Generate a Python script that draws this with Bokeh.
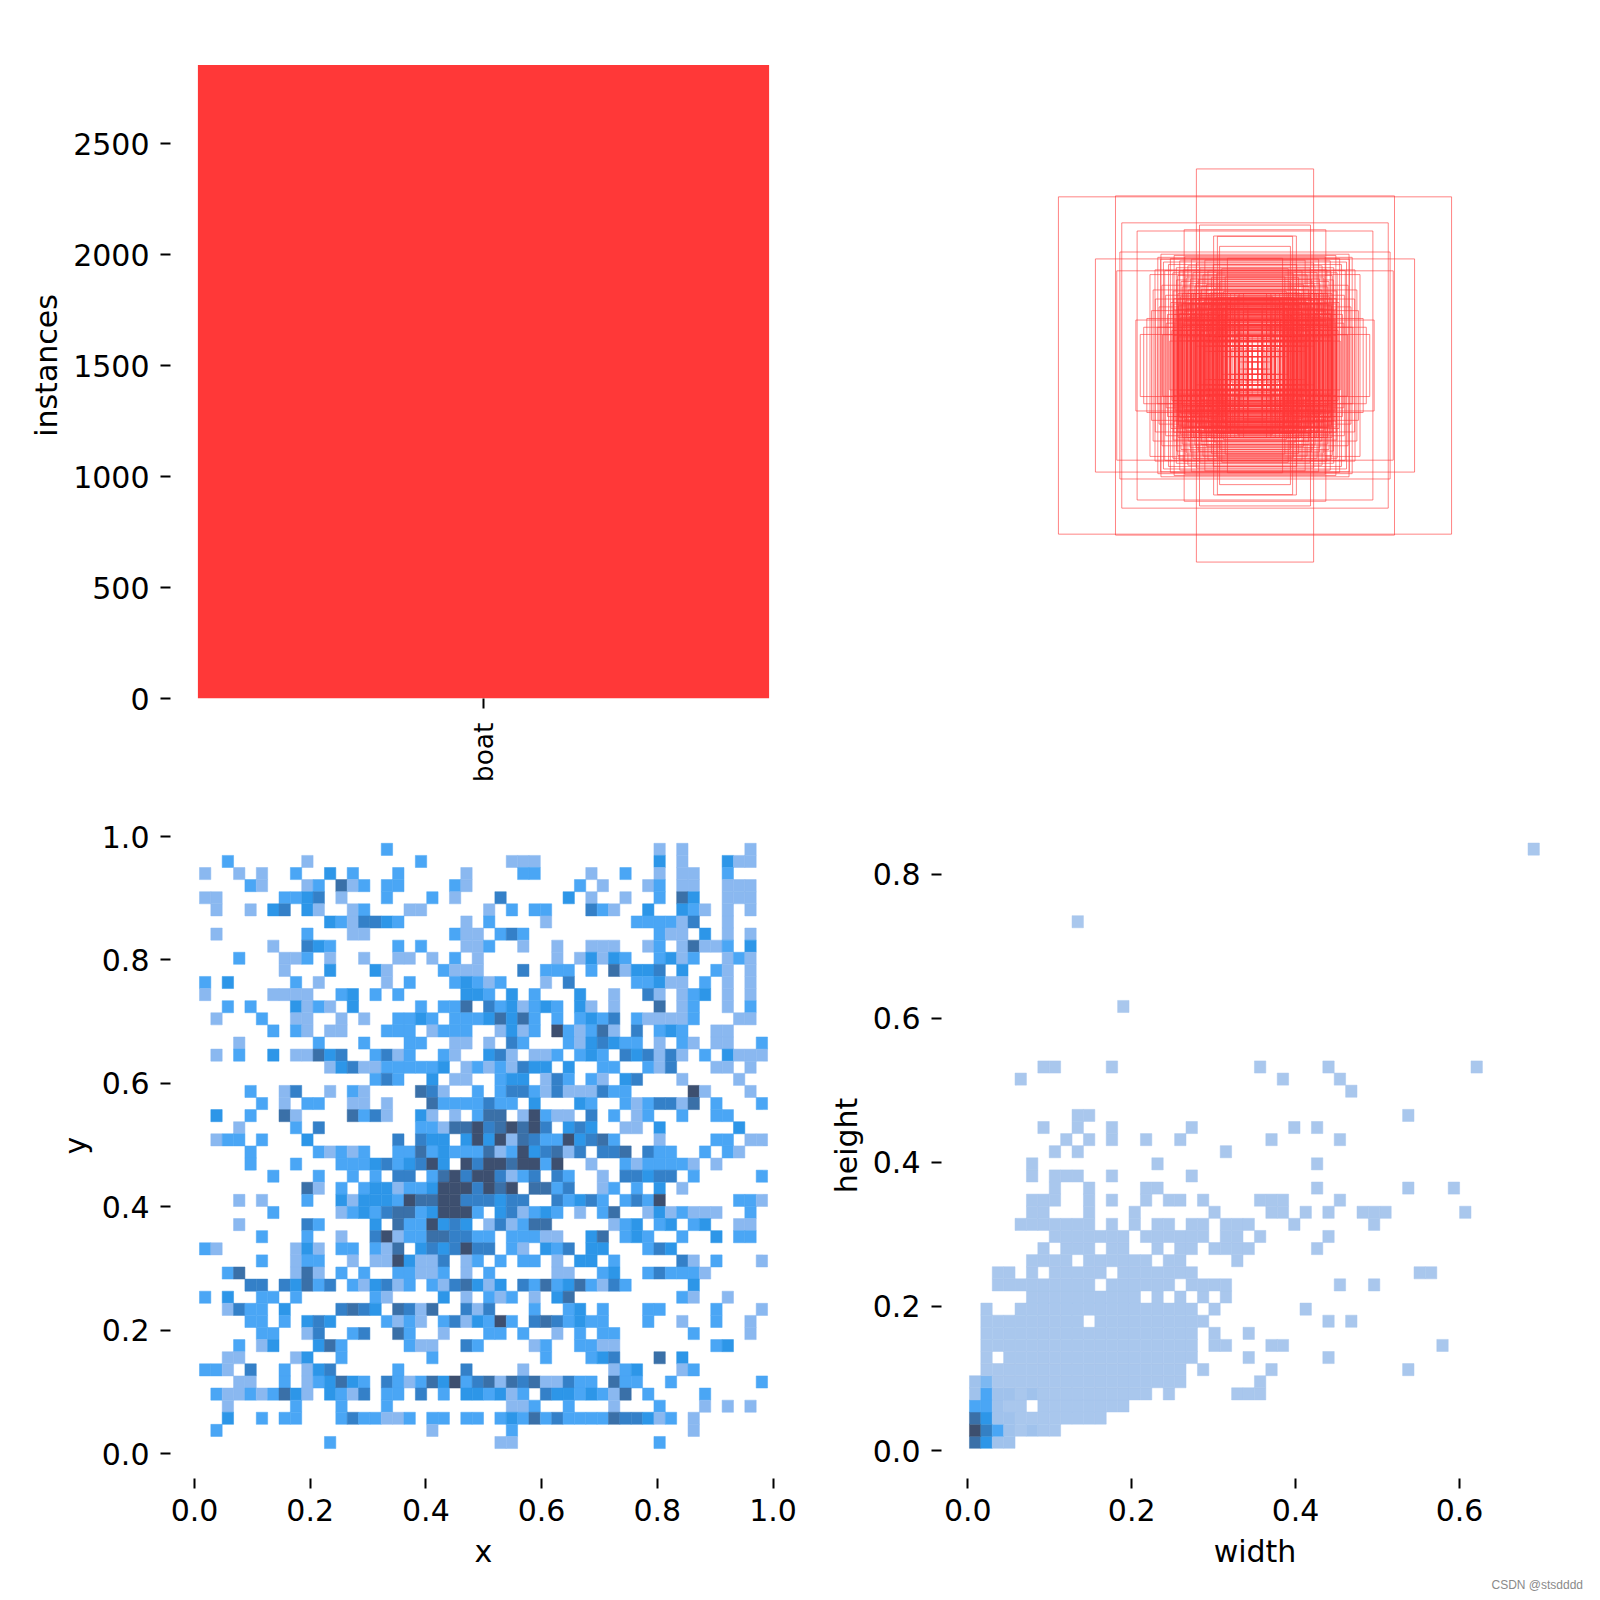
from math import pi
from bokeh.embed import file_html
from bokeh.resources import INLINE
from bokeh.layouts import column, row
from bokeh.models import (ColumnDataSource, FixedTicker, LinearColorMapper,
                          NumeralTickFormatter, Range1d, Title)
from bokeh.plotting import figure
from bokeh.transform import transform

FONT = "DejaVu Sans"
RED = "#FF3838"

# ---- instances per class
class_names = ["boat"]
class_counts = [2854]

# ---- x / y 2-D histogram, row 0 at the top: {column: level}
xy_rows = [
 {16:2,40:1,42:1,48:1},
 {2:2,9:1,19:2,27:1,28:1,29:1,40:3,42:1,46:3,47:1,48:1},
 {0:1,3:1,5:1,8:2,11:3,13:2,17:2,23:1,28:2,29:2,34:1,37:2,40:1,42:1,43:1,46:2},
 {4:2,5:1,9:1,10:2,12:5,13:1,14:2,16:2,17:2,22:2,23:1,33:2,35:1,39:1,40:2,42:1,43:1,46:1,47:1,48:1},
 {0:1,1:1,7:2,8:2,9:3,10:4,12:1,16:2,20:2,22:1,26:4,32:3,34:1,37:1,40:2,42:5,43:3,46:1,47:1,48:1},
 {1:1,4:1,6:3,7:4,9:3,10:1,13:1,14:2,18:1,19:1,25:1,27:2,29:2,30:2,34:4,35:2,36:1,39:3,42:3,43:2,44:1,46:1,48:1},
 {11:3,12:2,13:1,14:4,15:4,16:3,17:2,23:1,25:2,30:1,38:2,39:2,40:2,41:2,42:1,43:4,46:1},
 {1:1,9:2,13:1,14:1,22:2,23:1,24:1,26:2,27:4,28:2,40:2,41:1,42:1,44:3,46:1,48:1},
 {6:1,9:4,10:3,11:2,17:2,19:2,23:1,24:1,25:2,28:1,31:1,34:1,35:1,36:1,39:1,40:2,42:1,43:5,44:1,45:1,46:2,48:3},
 {3:2,7:1,8:1,9:2,11:1,14:1,17:1,18:1,20:1,22:2,24:1,31:1,33:1,34:3,35:1,36:3,37:2,40:2,41:3,42:1,43:2,46:1,47:2,48:1},
 {7:1,11:3,15:3,16:1,21:2,22:1,23:1,24:1,28:4,30:2,31:2,32:2,34:2,36:5,37:1,38:3,39:3,40:4,42:3,45:2,46:1,48:1},
 {0:2,2:3,8:2,10:1,16:1,18:2,22:2,23:3,24:2,25:1,26:2,30:1,32:4,38:2,39:2,40:3,41:1,42:1,44:2,46:1,48:1},
 {0:1,6:1,7:1,8:1,9:1,12:2,13:3,15:2,17:2,23:3,24:3,25:2,27:3,29:2,33:3,36:1,39:4,40:1,42:1,43:2,44:3,46:1,48:1},
 {2:2,4:2,8:3,9:1,10:2,11:1,13:3,19:2,21:2,22:2,23:5,25:4,26:2,27:3,28:1,29:2,30:3,31:2,33:3,34:1,36:1,40:5,42:1,43:2,46:1,48:2},
 {1:1,5:2,8:1,9:1,12:1,14:1,17:2,18:2,19:3,20:2,22:2,23:2,24:2,25:3,26:5,27:3,28:5,29:2,31:2,33:2,34:3,35:2,36:4,38:2,39:1,40:1,41:1,42:1,43:2,47:1,48:1},
 {6:2,8:2,9:1,11:1,12:1,16:2,17:2,18:2,20:1,21:2,22:2,23:2,26:1,27:3,28:1,29:2,31:6,32:2,33:1,34:2,35:5,36:1,38:4,40:2,41:3,42:2,45:1,46:1},
 {3:1,10:2,14:2,18:2,19:2,22:1,23:1,25:1,27:4,28:2,32:2,33:1,34:3,35:4,36:3,37:2,38:2,40:1,42:2,43:1,45:1,46:1,49:2},
 {1:1,3:2,6:3,8:1,9:1,10:5,11:3,12:4,15:2,16:4,17:1,18:2,21:2,22:1,25:3,26:4,27:1,29:1,30:1,31:2,33:2,34:3,35:2,37:4,38:3,39:4,40:1,41:4,42:1,44:2,46:3,47:1,48:1,49:1},
 {11:1,12:3,13:4,14:1,15:1,16:2,17:2,18:2,19:2,20:2,21:3,23:1,24:2,25:1,26:2,27:1,28:4,29:3,30:3,32:3,35:2,36:2,39:2,40:1,41:4,45:1,46:1,48:1},
 {15:2,16:4,17:2,20:3,22:1,23:1,26:2,27:3,28:3,30:1,31:4,32:2,34:2,35:1,37:3,38:4,42:1,47:1},
 {4:2,7:1,8:4,11:1,13:2,14:1,19:5,20:4,21:1,24:2,26:2,27:4,28:4,29:2,30:1,31:4,32:1,33:1,34:1,35:4,36:2,37:2,43:6,44:1,48:1},
 {5:2,7:1,9:2,10:2,13:1,14:1,16:1,20:5,21:2,22:2,23:2,24:2,25:4,26:2,27:2,29:3,33:3,34:2,37:2,38:1,39:2,40:4,41:4,42:1,43:5,45:2,49:2},
 {1:3,4:2,7:5,8:1,13:5,14:2,15:4,16:1,19:3,20:1,22:1,24:2,25:5,26:5,28:1,29:6,30:2,31:1,32:1,34:4,36:2,38:1,39:2,42:2,45:2,46:2},
 {3:1,8:2,10:4,19:2,20:2,21:1,22:5,23:5,24:6,25:4,26:5,27:6,28:5,29:6,30:4,32:3,33:4,34:3,37:1,38:1,40:3,47:3},
 {1:1,2:2,3:2,5:2,9:3,17:4,19:4,20:3,21:3,23:3,24:6,25:3,26:6,27:1,28:5,29:4,30:2,31:2,32:6,33:3,34:4,35:5,36:2,40:1,45:2,46:2,48:1,49:1},
 {4:2,10:2,11:1,12:2,13:1,14:2,17:2,18:2,19:5,20:2,21:3,22:2,23:2,24:2,25:5,26:1,27:2,28:6,29:3,30:4,31:5,32:1,33:4,35:4,36:4,37:5,39:4,40:2,41:2,44:2,46:2,47:1},
 {4:2,8:2,12:2,13:2,14:2,15:3,16:4,17:2,18:3,19:4,20:6,21:3,23:6,24:4,25:6,26:6,27:5,28:6,29:6,30:2,31:6,34:1,37:2,38:1,39:2,40:2,41:2,42:2,43:1,45:1},
 {6:2,10:2,13:2,15:2,17:4,18:4,20:2,21:5,22:6,23:4,24:6,25:6,26:4,27:1,28:2,29:4,31:4,32:2,35:1,37:4,38:4,39:3,40:4,41:4,43:2,49:2},
 {9:5,10:1,12:2,14:2,15:3,16:3,17:1,18:2,19:2,20:3,21:6,22:6,23:6,24:4,25:6,26:5,27:6,29:5,30:5,31:2,32:4,35:1,36:2,38:2,40:3,42:1},
 {3:1,5:1,9:2,12:3,13:1,14:3,15:3,16:3,17:2,18:6,19:5,20:5,21:6,22:6,23:4,24:4,25:4,26:3,27:4,28:4,31:4,32:2,33:3,34:4,35:2,37:2,38:4,39:2,40:6,47:2,48:2,49:1},
 {6:2,12:1,13:2,14:3,15:2,16:4,17:5,18:5,19:2,20:3,21:6,22:6,23:6,24:2,26:3,27:4,28:1,29:2,30:3,31:2,33:1,35:2,36:5,39:1,40:3,41:1,42:2,43:1,44:1,45:1,48:2},
 {3:1,9:4,10:2,15:3,17:5,18:2,19:2,20:6,21:3,22:4,23:3,25:1,26:4,27:1,28:2,29:5,30:5,36:1,37:2,38:3,40:2,41:3,43:2,44:3,47:1,48:1},
 {5:2,9:2,12:1,15:4,16:6,17:1,18:2,19:2,20:5,21:5,22:4,23:4,24:2,25:2,27:2,28:2,29:2,30:1,31:1,34:3,35:5,37:2,38:3,39:2,42:2,45:3,47:2,48:2},
 {0:2,1:1,8:1,9:3,10:1,12:2,13:2,15:2,16:1,17:5,19:3,20:4,21:3,22:4,23:6,24:4,25:4,27:2,28:1,30:3,31:2,32:4,34:3,35:3,39:2,40:4,41:3},
 {5:2,8:1,9:2,10:2,13:1,15:1,16:1,17:6,18:3,19:1,20:1,21:4,23:1,24:2,26:2,28:2,29:2,31:1,33:3,34:3,36:2,42:4,43:1,45:2,49:1},
 {2:2,3:5,8:1,9:5,10:1,12:2,14:2,17:2,18:2,19:1,20:1,21:2,23:1,25:2,31:1,32:1,35:2,36:3,39:2,40:4,41:2,42:2,43:2,44:1},
 {4:4,5:4,7:4,8:3,9:5,10:2,11:4,13:2,14:1,15:3,16:4,17:1,18:2,20:2,21:1,22:4,23:5,24:3,25:1,26:3,28:4,29:2,30:5,31:2,32:3,33:5,34:2,35:1,36:4,37:2,43:3},
 {0:2,2:3,5:2,6:2,8:2,15:2,16:1,21:3,23:1,25:2,26:1,27:2,29:1,31:3,32:5,42:2,43:1,46:1},
 {2:1,3:4,4:2,5:2,7:3,12:4,13:5,14:4,15:3,17:5,18:4,19:1,20:5,23:4,24:1,25:4,29:2,32:2,33:3,35:2,39:2,40:2,45:2,49:1},
 {4:2,5:2,7:2,9:3,10:4,11:3,16:2,17:1,18:2,19:1,21:2,22:4,23:1,24:3,25:2,26:6,27:2,29:4,30:5,31:4,32:2,33:3,34:2,35:2,39:2,42:1,45:2,48:1},
 {5:2,6:2,9:1,10:4,13:2,14:4,17:5,18:2,21:1,25:2,26:2,28:2,31:1,33:2,35:2,36:2,43:2,48:1},
 {3:2,5:1,6:3,10:3,11:5,12:2,18:2,19:1,20:1,23:4,24:2,29:1,30:2,33:2,34:2,35:1,36:1,45:2,46:3},
 {2:1,3:1,8:1,9:3,12:2,20:2,30:2,34:2,35:3,36:4,40:5,42:3},
 {0:2,1:2,2:1,4:4,7:2,9:1,10:3,11:4,17:2,23:4,28:1,36:1,37:2,38:3,42:1,43:2},
 {3:1,4:1,7:2,9:1,10:2,11:3,12:5,13:3,14:2,16:4,17:2,18:1,19:2,20:5,21:3,22:6,23:2,24:4,25:5,26:1,27:5,28:4,29:5,30:1,31:1,32:4,33:2,34:2,36:5,37:2,38:2,41:2,49:2},
 {1:2,2:1,3:1,4:2,5:1,6:2,7:5,8:3,9:1,11:3,12:2,13:1,14:4,16:2,17:2,19:4,21:2,23:3,24:3,25:2,26:3,27:1,28:2,30:4,31:3,32:3,33:2,34:3,35:2,36:1,37:5,39:2,44:2},
 {2:1,8:2,12:2,16:2,27:1,28:1,29:2,32:2,36:1,40:2,44:1,46:1,48:1},
 {2:3,5:2,7:2,8:2,12:2,13:4,14:2,15:2,16:1,17:1,18:2,20:2,21:2,23:2,24:2,26:2,27:3,28:2,29:5,30:2,31:4,32:2,33:2,34:2,35:2,36:5,37:4,38:4,39:3,40:1,41:2,43:1},
 {1:2,20:1,27:2,43:1},
 {11:2,26:1,27:1,40:2},
]
xy_palette = ["#8AB8F0", "#4AA6F5", "#2D96E8", "#3480C8", "#3A70A8", "#3D4F6F"]
xy_x_start, xy_y_start, xy_x_bin, xy_y_bin = 0.0086, 0.008, 0.01964, 0.01962

# ---- width / height 2-D histogram, row 0 at the bottom: occupied column runs
wh_rows = [
 [(0,3)],
 [(0,7)],
 [(0,11)],
 [(0,4),(6,13)],
 [(0,15),(17,17),(23,25)],
 [(0,18),(25,25)],
 [(1,18),(20,20),(26,26),(38,38)],
 [(1,1),(3,19),(24,24),(31,31)],
 [(1,19),(21,22),(26,27),(41,41)],
 [(1,19),(21,21),(24,24)],
 [(1,9),(11,20),(31,31),(33,33)],
 [(1,1),(4,19),(21,21),(29,29)],
 [(5,14),(16,16),(18,18),(20,20),(22,22)],
 [(2,10),(12,17),(19,22),(32,32),(35,35)],
 [(2,3),(5,5),(7,11),(13,19),(39,40)],
 [(5,8),(10,15),(17,18),(23,23)],
 [(6,6),(8,10),(12,13),(16,16),(18,19),(21,24),(30,30)],
 [(7,13),(15,20),(22,23),(25,25),(31,31)],
 [(4,10),(12,12),(14,14),(16,17),(19,20),(22,24),(28,28),(35,35)],
 [(5,6),(10,10),(14,14),(21,21),(26,27),(29,29),(31,31),(34,36),(43,43)],
 [(5,7),(10,10),(12,12),(15,15),(17,18),(20,20),(25,27),(32,32)],
 [(7,7),(10,10),(15,16),(30,30),(38,38),(42,42)],
 [(5,5),(7,9),(12,12),(19,19)],
 [(5,5),(16,16),(30,30)],
 [(7,7),(9,9),(22,22)],
 [(8,8),(10,10),(12,12),(15,15),(18,18),(26,26),(32,32)],
 [(6,6),(9,9),(12,12),(19,19),(28,28),(30,30)],
 [(9,10),(38,38)],
 [],
 [(33,33)],
 [(4,4),(27,27),(32,32)],
 [(6,7),(12,12),(25,25),(31,31),(44,44)],
 [],[],[],[],
 [(13,13)],
 [],[],[],[],[],[],
 [(9,9)],
 [],[],[],[],[],
 [(49,49)],
]
# darker levels near the origin: (row, column, level)
wh_peak = [(0,0,7),(0,1,5),(0,2,2),(0,3,2),(1,0,8),(1,1,6),(1,2,4),(1,3,2),(1,5,2),
           (2,0,7),(2,1,5),(2,2,2),(2,3,2),(3,0,4),(3,1,4),(3,2,2),(4,0,2),(4,1,4),
           (4,2,2),(4,3,2),(4,5,2),(5,0,2),(5,1,3)]
wh_palette = ["#A9C7ED", "#A0C2EC", "#7CB8F2", "#4AA6F5", "#2D96E8", "#3480C4", "#3A70A8", "#3D4F6F"]
wh_x_start, wh_y_start, wh_x_bin, wh_y_bin = 0.002, 0.003, 0.01391, 0.0168

# ---- box panel: sizes (width, height as image fractions)
box_sizes = [
 (.627,.538),(.445,.541),(.187,.627),(.425,.455),(.376,.429),(.226,.433),(.177,.448),(.132,.413),
 (.509,.340),(.431,.362),(.441,.302),(.380,.145),(.366,.099),(.355,.122),(.319,.305),(.301,.339),
 (.120,.412),(.113,.380),(.088,.342),
 (.335,.290),(.310,.345),(.300,.355),(.292,.330),(.288,.303),(.276,.322),(.270,.341),(.262,.296),
 (.258,.351),(.251,.312),(.247,.287),(.240,.334),(.236,.268),(.229,.305),(.224,.347),(.219,.279),
 (.214,.318),(.207,.262),(.203,.339),(.198,.296),(.192,.253),(.187,.327),(.181,.274),(.176,.311),
 (.171,.243),(.166,.289),(.160,.336),(.155,.258),(.150,.302),(.144,.231),(.139,.281),(.133,.322),
 (.128,.247),(.122,.294),(.117,.215),(.112,.268),(.106,.309),(.101,.236),(.095,.283),(.090,.205),
 (.325,.241),(.318,.212),(.306,.187),(.297,.256),(.285,.224),(.279,.163),(.268,.201),(.261,.238),
 (.255,.142),(.244,.191),(.238,.219),(.233,.127),(.226,.173),(.221,.208),(.215,.112),(.209,.158),
 (.204,.229),(.195,.097),(.189,.146),(.184,.186),(.178,.084),(.173,.131),(.168,.201),(.162,.118),
 (.157,.073),(.152,.169),(.146,.104),(.141,.192),(.135,.151),(.130,.091),(.124,.213),(.119,.137),
 (.114,.178),(.108,.081),(.103,.124),(.098,.164),(.092,.062),(.087,.111),(.081,.149),(.076,.053),
 (.071,.198),(.066,.142),(.060,.101),(.055,.221),(.050,.086),(.045,.128),(.041,.064),(.037,.171),
 (.032,.047),(.028,.094),(.250,.273),(.242,.301),(.232,.251),(.223,.283),(.213,.241),(.206,.276),
 (.196,.229),(.188,.263),(.179,.217),(.172,.252),(.163,.203),(.156,.241),(.148,.189),(.140,.228),
 (.131,.174),(.125,.217),(.116,.161),(.109,.203),(.099,.147),(.093,.188),(.345,.150),(.330,.175),
 (.312,.122),(.295,.098),(.283,.135),(.272,.078),(.265,.112),(.253,.176),(.248,.091),(.237,.153),
 (.211,.197),(.205,.153),(.199,.214),(.193,.168),(.186,.207),(.182,.139),(.177,.223),(.169,.178),
 (.165,.147),(.159,.212),(.154,.126),(.149,.198),(.143,.163),(.137,.207),(.132,.119),(.127,.183),
 (.121,.156),(.115,.194),(.111,.128),(.105,.172),(.218,.183),(.227,.141),(.234,.198),(.241,.166),
 (.246,.212),(.191,.121),(.174,.109),(.158,.093),(.143,.136),(.126,.104),(.113,.147),(.102,.183),
 (.094,.126),(.086,.169),(.078,.207),(.207,.128),(.197,.177),(.183,.158),(.170,.193),(.151,.181),
]
# histogram cells up to these sizes are also drawn as boxes
box_cell_max_w = 0.27
box_cell_max_h = 0.23

# ---- tick labels
bar_ticks = [0, 500, 1000, 1500, 2000, 2500]
xy_ticks = [0.0, 0.2, 0.4, 0.6, 0.8, 1.0]
wh_x_ticks = [0.0, 0.2, 0.4, 0.6]
wh_y_ticks = [0.0, 0.2, 0.4, 0.6, 0.8]
watermark = "CSDN @stsdddd"


def style(p, ylab_standoff=6, xlab_standoff=10):
    p.grid.visible = False
    p.outline_line_color = None
    p.background_fill_color = "white"
    for ax in list(p.xaxis) + list(p.yaxis):
        ax.axis_line_color = None
        ax.major_tick_line_color = "black"
        ax.major_tick_line_width = 2
        ax.major_tick_out = 10
        ax.major_tick_in = 0
        ax.minor_tick_line_color = None
        ax.major_label_standoff = 11
        ax.major_label_text_font = FONT
        ax.major_label_text_font_size = "30px"
        ax.major_label_text_color = "black"
        ax.axis_label_text_font = FONT
        ax.axis_label_text_font_size = "30px"
        ax.axis_label_text_font_style = "normal"
        ax.axis_label_text_color = "black"
    for ax in p.yaxis:
        ax.axis_label_standoff = ylab_standoff
    for ax in p.xaxis:
        ax.major_label_standoff = 10
        ax.axis_label_standoff = xlab_standoff


def fig(w, h, l, r, t, b, xr, yr):
    return figure(width=w, height=h, min_border_left=l, min_border_right=r,
                  min_border_top=t, min_border_bottom=b, x_range=xr, y_range=yr,
                  toolbar_location=None, output_backend="svg", tools="")


# top left: bar
PX_BAR_X = 714.0
PX_BAR_Y = 0.222
p1 = fig(820, 790, 170, 24, 32, 92,
         Range1d((170 - 483) / PX_BAR_X, (796 - 483) / PX_BAR_X), Range1d(0, 666 / PX_BAR_Y))
p1.vbar(x=[0], top=class_counts, width=0.8, bottom=0, fill_color=RED, line_color=None)
style(p1)
p1.yaxis.axis_label = "instances"
p1.yaxis.ticker = FixedTicker(ticks=bar_ticks)
p1.xaxis.ticker = FixedTicker(ticks=[0])
p1.xaxis.major_label_overrides = {0: class_names[0]}
p1.xaxis.major_label_orientation = pi / 2
p1.xaxis.major_label_text_font_size = "26.5px"
p1.xaxis.major_label_standoff = 14

# width/height cells
wh_cells = {}
for b, runs in enumerate(wh_rows):
    for a, z in runs:
        for c in range(a, z + 1):
            wh_cells[(b, c)] = 1
for b, c, lv in wh_peak:
    wh_cells[(b, c)] = lv
wh_x = [wh_x_start + (c + 0.5) * wh_x_bin for b, c in wh_cells]
wh_y = [wh_y_start + (b + 0.5) * wh_y_bin for b, c in wh_cells]
wh_v = list(wh_cells.values())

# top right: boxes
half = 666 / 627 / 2
p2 = fig(780, 790, 121, 32, 32, 92, Range1d(0, 1), Range1d(0.5 - half, 0.5 + half))
box = list(box_sizes) + [(x, y) for x, y in zip(wh_x, wh_y)
                         if x <= box_cell_max_w and y <= box_cell_max_h]
src2 = ColumnDataSource(dict(w=[k[0] for k in box], h=[k[1] for k in box],
                             x=[0.5] * len(box), y=[0.5] * len(box)))
p2.rect(x="x", y="y", width="w", height="h", source=src2, fill_color=None,
        line_color=RED, line_alpha=0.62, line_width=1)
style(p2)
p2.xaxis.visible = False
p2.yaxis.visible = False

# bottom left: x / y
PX_X, PX_Y = 578.5, 617.0
p3 = fig(820, 810, 170, 24, 22, 122,
         Range1d((170 - 194) / PX_X, (796 - 194) / PX_X),
         Range1d((1453 - 1478) / PX_Y, (1453 - 812) / PX_Y))
xs, ys, vs = [], [], []
for r, cells in enumerate(xy_rows):
    for c, lv in cells.items():
        xs.append(xy_x_start + (c + 0.5) * xy_x_bin)
        ys.append(xy_y_start + (49 - r + 0.5) * xy_y_bin)
        vs.append(lv)
m3 = LinearColorMapper(palette=xy_palette, low=0.5, high=6.5)
p3.rect(x="x", y="y", width=xy_x_bin, height=xy_y_bin, fill_color=transform("v", m3),
        line_color=transform("v", m3), line_width=0.5,
        source=ColumnDataSource(dict(x=xs, y=ys, v=vs)))
style(p3)
p3.xaxis.axis_label = "x"
p3.yaxis.axis_label = "y"
p3.xaxis.ticker = FixedTicker(ticks=xy_ticks)
p3.yaxis.ticker = FixedTicker(ticks=xy_ticks)
p3.xaxis.formatter = NumeralTickFormatter(format="0.0")
p3.yaxis.formatter = NumeralTickFormatter(format="0.0")

# bottom right: width / height
PX_W, PX_H = 819.5, 720.6
p4 = fig(780, 810, 121, 32, 22, 122,
         Range1d((941 - 967.3) / PX_W, (1568 - 967.3) / PX_W),
         Range1d((1450 - 1478) / PX_H, (1450 - 812) / PX_H))
m4 = LinearColorMapper(palette=wh_palette, low=0.5, high=8.5)
p4.rect(x="x", y="y", width=wh_x_bin, height=wh_y_bin, fill_color=transform("v", m4),
        line_color=transform("v", m4), line_width=0.5,
        source=ColumnDataSource(dict(x=wh_x, y=wh_y, v=wh_v)))
style(p4)
p4.xaxis.axis_label = "width"
p4.yaxis.axis_label = "height"
p4.xaxis.ticker = FixedTicker(ticks=wh_x_ticks)
p4.yaxis.ticker = FixedTicker(ticks=wh_y_ticks)
p4.xaxis.formatter = NumeralTickFormatter(format="0.0")
p4.yaxis.formatter = NumeralTickFormatter(format="0.0")
p4.add_layout(Title(text=watermark, align="left", offset=550, standoff=8,
                    text_font="Liberation Sans", text_font_size="12px",
                    text_font_style="normal", text_color="#8A8A8A"), "below")

page = column(row(p1, p2, spacing=0), row(p3, p4, spacing=0), spacing=0)
open("out.html", "w").write(file_html(page, INLINE))
